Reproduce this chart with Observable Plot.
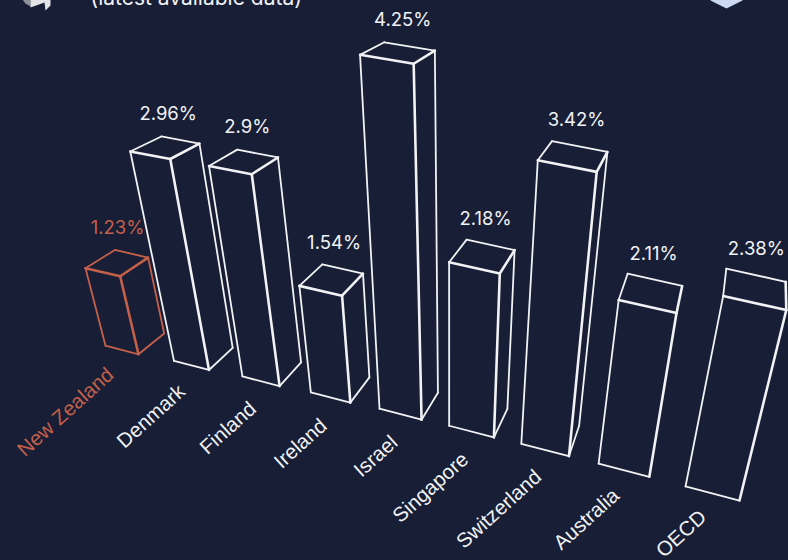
<!DOCTYPE html>
<html>
<head>
<meta charset="utf-8">
<script src="https://cdn.jsdelivr.net/npm/d3@7"></script>
<script src="https://cdn.jsdelivr.net/npm/@observablehq/plot@0.6"></script>
<style>
  html, body { margin: 0; padding: 0; background: #171e36; overflow: hidden; }
  svg { display: block; }
</style>
</head>
<body>
<div id="chart"></div>
<script>
// R&D spending as a share of GDP, one prism per country
const countries = ["New Zealand", "Denmark", "Finland", "Ireland", "Israel", "Singapore", "Switzerland", "Australia", "OECD"];
const values = [1.23, 2.96, 2.9, 1.54, 4.25, 2.18, 3.42, 2.11, 2.38];
const valueLabels = ["1.23%", "2.96%", "2.9%", "1.54%", "4.25%", "2.18%", "3.42%", "2.11%", "2.38%"];
const highlighted = ["New Zealand"];
const subtitle = "(latest available data)";

const W = 788, H = 560;
const INK = "#f1f2f4", ACCENT = "#c4604a";

// Perspective camera: uprights converge on one vanishing point, depth edges on another
const upVanish = [449, 1680];
const depthVanish = [775, -161];
const depthStrength = 0.042;

function floorFront(i) {
  const cx = 121.5 + 69.5 * i + 34.5 * Math.pow(i / 8, 6);
  const t = (cx - 121.5) / 590.5;
  const cy = 349.5 + 143.5 * t - 14 * t * (1 - t);
  const half = (33 + 1.9 * i + 0.09 * i * i) / 2;
  return [[cx - half, cy - 0.26 * half], [cx + half, cy + 0.26 * half]];
}

// side: 0 left, 1 right; back: 0 front, 1 rear; level: value above the floor
function project(i, side, back, level) {
  const b = floorFront(i)[side];
  const q = (0.0452 + 0.00165 * (i - 0.35 * (1 - side))) * level;
  const lift = q / (1 - q);
  const p = [b[0] - lift * (upVanish[0] - b[0]), b[1] - lift * (upVanish[1] - b[1])];
  if (!back) return p;
  const w = (1 - q) / (1 + 0.0387 * i);
  const f = depthStrength / (w + depthStrength);
  return [p[0] + f * (depthVanish[0] - p[0]), p[1] + f * (depthVanish[1] - p[1])];
}

// Each edge joins two corners written as [side, back, isTop]
const thinEdges = [
  [[0, 0, 0], [1, 0, 0]],
  [[0, 0, 0], [0, 0, 1]],
  [[0, 0, 1], [0, 1, 1]],
  [[0, 1, 1], [1, 1, 1]]
];
const heavyEdges = [
  [[0, 0, 1], [1, 0, 1]],
  [[1, 0, 0], [1, 0, 1]],
  [[1, 0, 1], [1, 1, 1]]
];
const sideEdges = [
  [[1, 1, 1], [1, 1, 0]],
  [[1, 1, 0], [1, 0, 0]]
];

function edgeRows(edges, keep) {
  const rows = [];
  countries.forEach((name, i) => {
    if (keep && !keep(i)) return;
    edges.forEach((edge, e) => {
      edge.forEach(([s, b, top]) => {
        const [x, y] = project(i, s, b, top ? values[i] : 0);
        rows.push({name, edge: `${name}-${e}`, x, y});
      });
    });
  });
  return rows;
}

// The side panel is left out once it narrows to a sliver towards the vanishing point
const sideShows = i => project(i, 1, 1, 0)[0] - project(i, 1, 0, 0)[0] > 8;

const tone = name => highlighted.includes(name) ? "accent" : "plain";

const valueRows = countries.map((name, i) => {
  const a = project(i, 0, 1, values[i]), b = project(i, 1, 1, values[i]);
  return {
    name, label: valueLabels[i],
    x: (a[0] + b[0]) / 2 - 14 + 1.8 * i,
    y: (a[1] + b[1]) / 2 - 26
  };
});

const nameRows = countries.map((name, i) => {
  const p = project(i, 0, 0, 0);
  const arc = Math.sin(Math.PI * i / 8);
  return {name, x: p[0] + 5 + 1.6 * i + 3.5 * arc, y: p[1] + 26 + 0.6 * i + 4 * arc - 0.4 * i};
});

// Badges at the top edge, cut off by the frame
const polygon = pts => ({draw(ctx) {
  pts.forEach(([x, y], k) => k ? ctx.lineTo(x, y) : ctx.moveTo(x, y));
  ctx.closePath();
}});
const badges = [
  {x: 34, y: 0, fill: "#8f929b", symbol: polygon([[-16, -6], [-4, -6], [-4, 6], [-9, 3]])},
  {x: 34, y: 0, fill: "#e3e4e7", symbol: polygon([[-4, -6], [16, -6], [16, 5], [11, 10], [10, 2], [-4, 7]])},
  {x: 726, y: 0, fill: "#cdd9f0", symbol: polygon([[-16, -8], [16, -8], [16, 0], [0, 8], [-16, 0]])}
];

const line = (rows, strokeWidth) => Plot.line(rows, {
  x: "x", y: "y", z: "edge",
  stroke: d => tone(d.name),
  strokeWidth, strokeLinecap: "round", strokeLinejoin: "round"
});

const chart = Plot.plot({
  width: W, height: H,
  margin: 0,
  style: {background: "#171e36", overflow: "hidden"},
  x: {domain: [0, W], range: [0, W], axis: null},
  y: {domain: [0, H], range: [0, H], axis: null},
  color: {domain: ["accent", "plain"], range: [ACCENT, INK]},
  marks: [
    ...badges.map(b => Plot.dot([b], {x: "x", y: "y", fill: b.fill, stroke: "none", symbol: () => b.symbol, r: 1})),
    Plot.text([subtitle], {
      x: () => 90, y: () => -2, text: d => d, fill: INK,
      textAnchor: "start", fontFamily: "Inter", fontSize: 21
    }),
    line(edgeRows(thinEdges), 1.8),
    line(edgeRows(sideEdges, sideShows), 1.8),
    line(edgeRows(heavyEdges), 2.6),
    Plot.text(valueRows, {
      x: "x", y: "y", text: "label",
      fill: d => tone(d.name),
      fontFamily: "Inter", fontSize: 18.5
    }),
    Plot.text(nameRows, {
      x: "x", y: "y", text: "name",
      fill: d => tone(d.name),
      rotate: -42, textAnchor: "end",
      fontFamily: "Liberation Sans", fontSize: 20.5
    })
  ]
});
document.getElementById("chart").append(chart);
</script>
</body>
</html>
